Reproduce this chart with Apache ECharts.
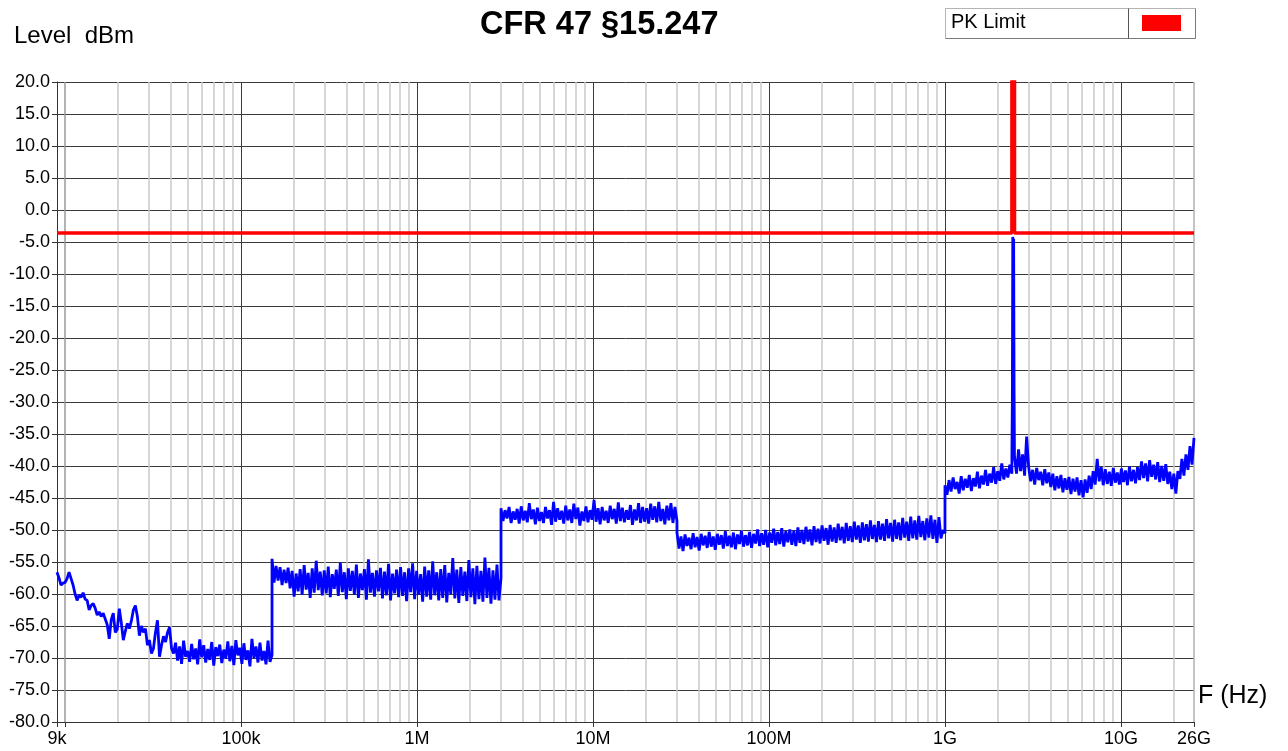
<!DOCTYPE html>
<html style="height: 100%;width:100%">
<head>
    <meta charset="utf-8">
    <style>
        html, body { margin: 0; padding: 0; width: 100%; height: 100%; background: #fff; }
        #chart-panel { width: 1288px; height: 751px; }
    </style>
</head>
<body>
    <div id="chart-panel"></div>
    <script type="text/javascript" src="https://cdn.jsdelivr.net/npm/echarts@6/dist/echarts.min.js"></script>
    <script type="text/javascript">
        // band edges of the sweep (Hz)
        var bandEdges = [9e3, 150e3, 3e6, 30e6, 1e9, 2.4e9, 2.4835e9, 26e9];

        // levels (dBm), one list per sweep band
        var band1 = [
            -56.6, -57.5, -58.6, -58.3, -58.2, -57.6, -56.6, -57.6, -58.6, -60.0,
            -61.0, -60.2, -60.5, -59.8, -60.8, -61.0, -62.5, -61.8, -61.5, -62.2,
            -63.3, -62.8, -63.5, -63.0, -63.9, -64.8, -67.0, -64.0, -63.0, -66.0,
            -65.5, -62.3, -64.5, -67.2, -65.8, -64.6, -65.4, -64.2, -62.5, -61.8,
            -63.5, -66.5, -65.0, -66.0, -65.4, -68.0, -67.2, -69.3, -68.5, -66.0,
            -64.1, -69.8, -68.0, -66.6, -67.5, -66.0, -65.2, -68.5, -69.3,
            -67.6, -70.4, -68.2, -70.9, -67.3, -69.8, -68.9, -70.6, -67.8, -70.2,
            -68.5, -71.0, -67.1, -69.9, -68.0, -70.7, -68.6, -70.3, -67.5, -71.2,
            -68.3, -69.7, -67.9, -70.8, -68.7, -70.1, -67.4, -70.5, -68.1, -71.1,
            -67.2, -69.6, -68.4, -70.9, -67.7, -70.3, -68.8, -71.3, -67.0, -70.0,
            -68.2, -70.7, -67.6, -70.4, -68.9, -71.0, -67.3, -70.6, -69.5
        ];
        var band2 = [
            -54.5, -58.2, -55.6, -57.9, -55.8, -58.6, -56.2, -58.3, -55.9, -59.1,
            -56.4, -60.4, -56.8, -59.6, -56.1, -60.1, -55.5, -59.3, -56.7, -60.6,
            -56.0, -59.8, -54.8, -59.4, -56.5, -60.2, -56.3, -59.9, -55.7, -60.5,
            -56.9, -59.2, -56.2, -60.3, -55.1, -59.7, -56.6, -60.8, -56.0, -59.5,
            -56.4, -60.1, -55.4, -60.6, -56.8, -59.4, -56.1, -60.9, -54.6, -59.8,
            -56.7, -60.4, -56.3, -59.6, -55.9, -60.7, -56.5, -60.2, -55.3, -61.0,
            -56.8, -59.9, -56.2, -60.5, -55.8, -60.3, -56.6, -61.1, -56.0, -59.7,
            -55.2, -60.8, -56.4, -60.1, -56.9, -61.2, -55.7, -60.4, -56.3, -60.9,
            -54.9, -60.2, -56.6, -61.0, -56.1, -60.6, -55.5, -61.3, -56.7, -60.0,
            -54.4, -60.7, -56.2, -61.4, -55.8, -60.3, -56.5, -61.1, -54.7, -60.5,
            -56.0, -61.6, -55.6, -60.8, -56.4, -61.2, -54.3, -60.6, -55.9, -61.5,
            -56.3, -60.9, -55.4, -61.0, -57.5
        ];
        var band3 = [
            -46.6, -48.6, -46.9, -48.2, -46.4, -48.9, -47.1, -48.4, -46.7, -49.0,
            -46.3, -48.5, -47.0, -48.8, -45.8, -48.3, -46.8, -49.1, -46.5, -48.6,
            -47.2, -48.9, -46.4, -48.2, -46.9, -49.2, -45.6, -48.7, -46.6, -48.4,
            -47.0, -49.0, -46.2, -48.5, -46.8, -48.9, -45.9, -48.3, -46.5, -49.3,
            -47.1, -48.6, -46.3, -48.8, -46.9, -48.4, -45.3, -48.7, -46.6, -49.1,
            -46.4, -48.5, -47.0, -48.9, -46.2, -48.3, -46.7, -49.0, -45.7, -48.6,
            -46.5, -48.8, -46.9, -48.4, -46.1, -49.2, -46.8, -48.5, -45.8, -48.9,
            -46.4, -48.7, -46.6, -49.0, -45.9, -48.4, -46.3, -48.8, -45.6, -48.6,
            -46.7, -49.1, -46.2, -48.5, -45.8, -48.9, -46.4, -48.6
        ];
        var band4 = [
            -50.4, -52.9, -51.0, -53.3, -50.7, -52.5, -51.2, -53.0, -50.5, -52.7,
            -51.1, -53.2, -50.6, -52.4, -50.9, -52.8, -50.3, -52.6, -51.0, -53.1,
            -50.6, -52.3, -50.8, -52.9, -50.2, -52.5, -50.9, -52.7, -50.4, -53.0,
            -50.7, -52.2, -50.1, -52.6, -50.8, -52.4, -50.3, -52.8, -50.6, -52.1,
            -49.9, -52.5, -50.5, -52.3, -50.0, -52.7, -50.4, -52.0, -49.8, -52.4,
            -50.3, -52.2, -49.7, -52.6, -50.2, -51.9, -49.9, -52.3, -50.1, -52.5,
            -49.6, -52.0, -50.0, -52.2, -49.5, -51.8, -49.9, -52.4, -49.4, -51.9,
            -49.8, -52.1, -49.3, -51.7, -49.7, -52.3, -49.2, -51.8, -49.6, -52.0,
            -49.0, -51.6, -49.5, -52.1, -48.9, -51.7, -49.4, -51.9, -48.7, -51.5,
            -49.3, -52.0, -48.8, -51.6, -49.1, -51.8, -48.5, -51.4, -49.2, -51.9,
            -48.6, -51.5, -49.0, -51.7, -48.3, -51.3, -48.9, -51.8, -48.4, -51.4,
            -48.8, -51.6, -48.1, -51.2, -48.7, -51.7, -47.9, -51.3, -48.5, -51.5,
            -47.8, -51.1, -48.6, -51.6, -48.2, -51.2, -47.7, -51.4, -48.4, -52.0,
            -48.0, -51.3, -50.0, -50.5
        ];
        var band5 = [
            -43.0, -44.5, -42.2, -44.0, -41.8, -43.6, -42.5, -44.3, -41.6, -43.8,
            -42.0, -43.4, -41.4, -43.9, -41.9, -43.2, -40.9, -43.5, -41.5, -42.9,
            -40.6, -43.1, -41.2, -42.6, -40.2, -42.8, -40.8, -42.3, -39.6, -42.1,
            -40.4, -41.8, -39.8, -41.2
        ];
        // carrier (2.4 - 2.4835 GHz)
        var band6 = [-38.5, -30.0, -4.2, -12.0, -4.5, -28.0, -39.0];
        var band7 = [
            -38.6, -41.2, -37.4, -40.8, -38.2, -41.5, -35.4,
            -40.1, -42.4, -40.6, -42.9, -40.3, -42.2, -40.9, -43.0, -40.5, -42.7, -41.0,
            -43.3, -41.2, -43.8, -41.6, -43.5, -41.4, -44.1, -41.9, -43.7, -41.7,
            -44.4, -42.0, -44.0, -41.8, -44.6, -42.2, -44.9,
            -42.1, -44.2, -41.5, -43.6, -40.8,
            -42.9, -38.9, -42.4, -40.2, -43.0,
            -40.5, -42.8, -40.9, -43.1, -40.3, -42.6, -41.0, -42.9, -40.4, -42.5,
            -40.7, -43.0, -40.1, -42.4, -40.6, -42.7, -40.2,
            -42.2, -39.3, -41.9, -39.6, -42.4, -39.1, -41.7, -39.8, -42.1, -39.4,
            -42.5, -40.0, -42.3, -39.7, -42.8,
            -40.9, -43.6, -41.2, -44.3, -40.8,
            -42.0, -38.9, -41.5, -38.2, -40.6, -36.9, -39.8, -35.6
        ];
        var bands = [band1, band2, band3, band4, band5, band6, band7];

        // PK limit line
        var limitFreq = [9e3, 2.4e9, 2.4e9, 2.4835e9, 2.4835e9, 26e9];
        var limitLevel = [-3.6, -3.6, 40, 40, -3.6, -3.6];

        // x tick labels
        var xTickValues = [9e3, 1e4, 1e5, 1e6, 1e7, 1e8, 1e9, 1e10, 26e9];
        var xTickLabels = ['9k', '', '100k', '1M', '10M', '100M', '1G', '10G', '26G'];

        var FONT = 'Liberation Sans, Arial, sans-serif';

        // sweep points spread evenly (log) inside a band
        function sweep (f0, f1, levels) {
            var n = levels.length;
            return levels.map(function (v, i) {
                return [f0 * Math.pow(f1 / f0, i / (n - 1)), v];
            });
        }

        var traceData = [];
        bands.forEach(function (lv, k) {
            traceData = traceData.concat(sweep(bandEdges[k], bandEdges[k + 1], lv));
        });
        var limitData = limitFreq.map(function (f, i) { return [f, limitLevel[i]]; });

        // vertical grid: decades dark, 2..9 light
        function gridLine (f, color, width) {
            return { xAxis: f, lineStyle: { color: color, width: width, type: 'solid' } };
        }
        var gridLines = [];
        for (var d = 1e4; d <= 1e10; d *= 10) {
            if (d > 1e4) {
                gridLines.push(gridLine(d, '#3a3a3a', 1));
            } else {
                gridLines.push(gridLine(d, '#9a9a9a', 1.5));
            }
            for (var m = 2; m <= 9; m++) {
                if (d * m < 26e9) {
                    gridLines.push(gridLine(d * m, '#c8c8c8', 1.5));
                }
            }
        }
        gridLines.push(gridLine(26e9, '#b0b0b0', 1.5));

        function xLabel (val) {
            for (var i = 0; i < xTickValues.length; i++) {
                if (Math.abs(val / xTickValues[i] - 1) < 1e-6) return xTickLabels[i];
            }
            return '';
        }

        var dom = document.getElementById('chart-panel');
        var myChart = echarts.init(dom, null, { renderer: 'canvas' });
        var option = {
            animation: false,
            backgroundColor: '#fff',
            title: [
                {
                    text: 'CFR 47 §15.247',
                    left: 480, top: 9, padding: 0,
                    textStyle: { fontFamily: FONT, fontSize: 32.5, fontWeight: 'bold', color: '#000' }
                },
                {
                    text: 'Level  dBm',
                    left: 14, top: 24, padding: 0,
                    textStyle: { fontFamily: FONT, fontSize: 24, fontWeight: 'normal', color: '#000' }
                },
                {
                    text: 'F (Hz)',
                    left: 1198, top: 684, padding: 0,
                    textStyle: { fontFamily: FONT, fontSize: 25, fontWeight: 'normal', color: '#000' }
                }
            ],
            grid: { left: 57, right: 94, top: 82, bottom: 29, containLabel: false },
            xAxis: {
                type: 'log',
                logBase: 10,
                min: 9e3,
                max: 26e9,
                axisLine: { show: true, onZero: false, lineStyle: { color: '#333', width: 1 } },
                axisTick: { show: true, length: 5, lineStyle: { color: '#333' } },
                axisLabel: {
                    show: true, showMinLabel: true, showMaxLabel: true,
                    margin: 8, color: '#000', fontFamily: FONT, fontSize: 18,
                    formatter: xLabel
                },
                splitLine: { show: false },
                minorTick: { show: false }
            },
            yAxis: {
                type: 'value',
                min: -80,
                max: 20,
                interval: 5,
                axisLine: { show: true, lineStyle: { color: '#333', width: 1 } },
                axisTick: { show: true, length: 5, lineStyle: { color: '#333' } },
                axisLabel: {
                    margin: 7, color: '#000', fontFamily: FONT, fontSize: 18,
                    formatter: function (v) { return v.toFixed(1); }
                },
                splitLine: { show: true, lineStyle: { color: '#3a3a3a', width: 1 } }
            },
            graphic: [
                {
                    type: 'rect', z: 10,
                    shape: { x: 945.5, y: 8.5, width: 250, height: 30 },
                    style: { fill: '#fff', stroke: '#b4b4b4', lineWidth: 1 }
                },
                {
                    type: 'polyline', z: 11,
                    shape: { points: [[1195.5, 8.5], [1195.5, 38.5], [945.5, 38.5]] },
                    style: { stroke: '#7a7a7a', lineWidth: 1, fill: null }
                },
                {
                    type: 'line', z: 11,
                    shape: { x1: 1128.5, y1: 8.5, x2: 1128.5, y2: 38.5 },
                    style: { stroke: '#555', lineWidth: 1 }
                },
                {
                    type: 'text', z: 11, left: 951, top: 12,
                    style: { text: 'PK Limit', fill: '#000', font: '20px ' + FONT }
                },
                {
                    type: 'rect', z: 11,
                    shape: { x: 1142, y: 15, width: 39, height: 16 },
                    style: { fill: '#ff0000' }
                }
            ],
            series: [
                {
                    name: 'grid',
                    type: 'line',
                    data: [],
                    silent: true,
                    z: 1,
                    markLine: {
                        z: 1,
                        silent: true,
                        animation: false,
                        symbol: ['none', 'none'],
                        label: { show: false },
                        lineStyle: { type: 'solid' },
                        emphasis: { disabled: true },
                        data: gridLines
                    }
                },
                {
                    name: 'Level',
                    type: 'line',
                    data: traceData,
                    showSymbol: false,
                    symbol: 'none',
                    z: 3,
                    lineStyle: { color: '#0000ff', width: 2.8, join: 'bevel' }
                },
                {
                    name: 'PK Limit',
                    type: 'line',
                    data: limitData,
                    showSymbol: false,
                    symbol: 'none',
                    z: 4,
                    lineStyle: { color: '#ff0000', width: 3.5 }
                }
            ]
        };
        myChart.setOption(option);
    </script>
</body>
</html>
